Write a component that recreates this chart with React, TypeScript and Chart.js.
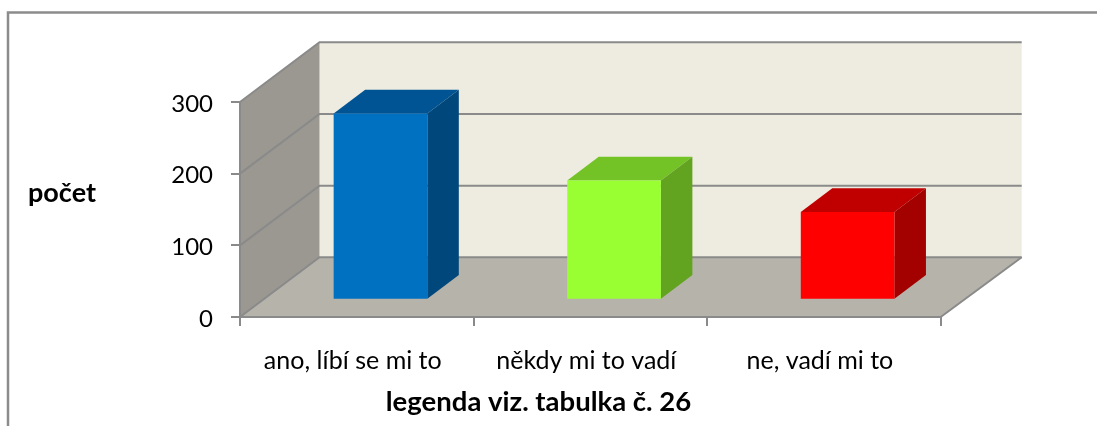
import React, { useEffect, useRef } from "react";
import { Chart, registerables } from "chart.js";

Chart.register(...registerables);

const categories = ["ano, líbí se mi to", "někdy mi to vadí", "ne, vadí mi to"];
const values = [260, 166.5, 122.5];
const frontColors = ["#0070C0", "#99FF33", "#FF0000"];
const topColors = ["#005494", "#73C326", "#C00000"];
const sideColors = ["#00477B", "#62A320", "#A30000"];
const yTitle = "počet";
const xTitle = "legenda viz. tabulka č. 26";
const FONT = "Lato, Carlito, sans-serif";
const LINE = "#8A8A8A";

const wall = { dx: 79.5, dy: -59.7, extraRight: 1.5 };
const barDepth = { dx: 31.5, dy: -23.8 };
const barShift = { dx: 23.7, dy: -17.2 };

const poly = (ctx: CanvasRenderingContext2D, pts: number[][], fill: string) => {
  ctx.beginPath();
  pts.forEach(([x, y], i) => (i ? ctx.lineTo(x, y) : ctx.moveTo(x, y)));
  ctx.closePath();
  ctx.fillStyle = fill;
  ctx.fill();
};
const line = (ctx: CanvasRenderingContext2D, pts: number[][], color = LINE, width = 2) => {
  ctx.beginPath();
  pts.forEach(([x, y], i) => (i ? ctx.lineTo(x, y) : ctx.moveTo(x, y)));
  ctx.strokeStyle = color;
  ctx.lineWidth = width;
  ctx.stroke();
};

const box3d = {
  id: "box3d",
  beforeDraw(chart: any) {
    const { ctx, chartArea: a, scales } = chart;
    const y = scales.y;
    const { dx, dy, extraRight } = wall;
    const backRight = a.right + dx + extraRight;
    ctx.save();
    // frame
    line(ctx, [[8, 426], [8, 12.5], [1097, 12.5]], "#8C8C8C", 2.5);
    // walls
    poly(ctx, [[a.left + dx, a.top + dy], [backRight, a.top + dy], [backRight, a.bottom + dy], [a.left + dx, a.bottom + dy]], "#EEECE1");
    poly(ctx, [[a.left, a.top], [a.left + dx, a.top + dy], [a.left + dx, a.bottom + dy], [a.left, a.bottom]], "#9B9891");
    poly(ctx, [[a.left, a.bottom], [a.right, a.bottom], [backRight, a.bottom + dy], [a.left + dx, a.bottom + dy]], "#B6B3AB");
    // gridlines on walls
    for (const t of y.ticks) {
      const py = y.getPixelForValue(t.value);
      line(ctx, [[a.left, py], [a.left + dx, py + dy], [backRight, py + dy]]);
    }
    line(ctx, [[a.right, a.bottom], [backRight, a.bottom + dy]]);
    ctx.restore();
  },
  beforeDatasetsDraw(chart: any) {
    const { ctx } = chart;
    const meta = chart.getDatasetMeta(0);
    meta.data.forEach((bar: any, i: number) => {
      const { x, y, base, width } = bar.getProps(["x", "y", "base", "width"], true);
      const l = x - width / 2 + barShift.dx;
      const r = x + width / 2 + barShift.dx;
      const t = y + barShift.dy;
      const b = base + barShift.dy;
      const { dx, dy } = barDepth;
      poly(ctx, [[l, t], [r, t], [r + dx, t + dy], [l + dx, t + dy]], topColors[i]);
      poly(ctx, [[r, t], [r + dx, t + dy], [r + dx, b + dy], [r, b]], sideColors[i]);
    });
    ctx.save();
    ctx.translate(barShift.dx, barShift.dy);
  },
  afterDatasetsDraw(chart: any) {
    chart.ctx.restore();
  },
  afterDraw(chart: any) {
    const { ctx } = chart;
    ctx.save();
    ctx.fillStyle = "#000";
    ctx.textBaseline = "alphabetic";
    ctx.textAlign = "center";
    ctx.font = `bold 27px ${FONT}`;
    ctx.fillText(yTitle, 62, 202);
    ctx.font = `bold 27.5px ${FONT}`;
    ctx.fillText(xTitle, 538.5, 411);
    ctx.restore();
  },
};

export default function App() {
  const ref = useRef<HTMLCanvasElement>(null);
  useEffect(() => {
    const chart = new Chart(ref.current!, {
      type: "bar",
      data: {
        labels: categories,
        datasets: [{
          data: values,
          backgroundColor: frontColors,
          borderWidth: 0,
          categoryPercentage: 1,
          barPercentage: 0.401,
          clip: false,
        }],
      } as any,
      options: {
        responsive: false,
        animation: false,
        layout: { padding: { left: 0, top: 102, right: 156.3, bottom: 0 } },
        plugins: { legend: { display: false }, tooltip: { enabled: false } },
        scales: {
          x: {
            afterFit: (s: any) => { s.height = 109; },
            border: { color: LINE, width: 2 },
            grid: { drawOnChartArea: false, color: LINE, lineWidth: 2, tickLength: 9 },
            ticks: { color: "#000", font: { family: FONT, size: 25 }, padding: 20, maxRotation: 0, labelOffset: -4 },
          },
          y: {
            min: 0,
            max: 300,
            afterFit: (s: any) => { s.width = 240; },
            border: { color: LINE, width: 2 },
            grid: { drawOnChartArea: false, color: LINE, lineWidth: 2, tickLength: 9 },
            ticks: { stepSize: 100, color: "#000", font: { family: FONT, size: 24 }, padding: 18, labelOffset: 2 },
          },
        },
      } as any,
      plugins: [box3d],
    });
    return () => chart.destroy();
  }, []);
  return (
    <canvas
      ref={ref}
      width={1097}
      height={426}
      style={{ position: "absolute", left: 0, top: 0, width: 1097, height: 426, display: "block" }}
    />
  );
}
